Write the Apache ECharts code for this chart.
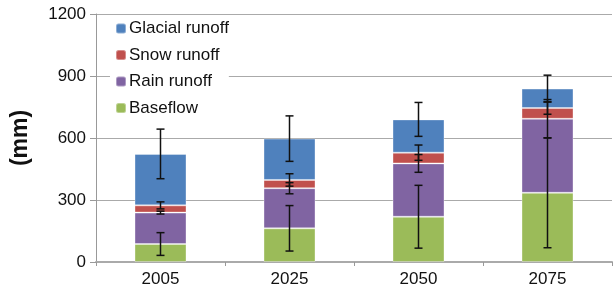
<!DOCTYPE html>
<html>
<head>
<meta charset="utf-8">
<script src="https://cdn.jsdelivr.net/npm/echarts@6/dist/echarts.min.js"></script>
<style>
html, body { margin: 0; padding: 0; background: #fff; }
#chart { width: 614px; height: 296px; }
</style>
</head>
<body>
<div id="chart"></div>
<script>
var years = ['2005', '2025', '2050', '2075'];
var yTicks = [0, 300, 600, 900, 1200];

// segment heights (mm)
var baseflow = [87, 163, 219, 335];
var rain = [152, 194, 258, 358];
var snow = [35, 40, 52, 52];
var glacial = [249, 200, 161, 94];

// error half-ranges, drawn at the top of each segment
var baseflowErr = [55, 110, 152, 266];
var rainErr = [7, 27, 43, 93];
var snowErr = [17, 30, 37, 30];
var glacialErr = [120, 110, 82, 65];

var colors = {
	glacial: '#4F81BD',
	snow: '#C0504D',
	rain: '#8064A2',
	baseflow: '#9BBB59'
};

var font = 'Liberation Sans, Arial, Helvetica, sans-serif';

// build error bar data from the stacked tops
var errData = [];
var layers = [[baseflow, baseflowErr], [rain, rainErr], [snow, snowErr], [glacial, glacialErr]];
for (var i = 0; i < years.length; i++) {
	var cum = 0;
	for (var k = 0; k < layers.length; k++) {
		cum += layers[k][0][i];
		errData.push([i, cum - layers[k][1][i], cum + layers[k][1][i]]);
	}
}

function barSeries(name, data, color) {
	return {
		name: name,
		type: 'bar',
		stack: 'total',
		barWidth: 52,
		data: data,
		itemStyle: { color: color, borderColor: 'rgba(255,255,255,0.35)', borderWidth: 1 },
		emphasis: { disabled: true }
	};
}

var myChart = echarts.init(document.getElementById('chart'));
myChart.setOption({
	animation: false,
	textStyle: { fontFamily: font },
	grid: { left: 96, right: 2, top: 14, bottom: 34 },
	legend: {
		orient: 'vertical',
		left: 110,
		top: 15,
		itemWidth: 10,
		itemHeight: 10,
		itemGap: 9.5,
		padding: [5, 0, 5, 5],
		backgroundColor: '#fff',
		data: ['Glacial runoff', 'Snow runoff', 'Rain runoff', 'Baseflow'],
		textStyle: { fontSize: 17, lineHeight: 17, color: '#111', fontFamily: font, padding: [0, 0, 0, -2] }
	},
	xAxis: {
		type: 'category',
		data: years,
		axisLine: { lineStyle: { color: '#aaa', width: 2 } },
		axisTick: { show: true, length: 4, lineStyle: { color: '#999' } },
		axisLabel: { fontSize: 17, color: '#111', margin: 9 }
	},
	yAxis: {
		type: 'value',
		min: 0,
		max: 1200,
		interval: 300,
		name: '(mm)',
		nameLocation: 'middle',
		nameGap: 64,
		nameTextStyle: { fontSize: 23, fontWeight: 'bold', color: '#111' },
		axisLine: { show: true, lineStyle: { color: '#999' } },
		axisTick: { show: true, length: 6, lineStyle: { color: '#999' } },
		axisLabel: {
			fontSize: 17,
			color: '#111',
			margin: 10,
			formatter: function (v) { return yTicks.indexOf(v) >= 0 ? String(v) : ''; }
		},
		splitLine: { lineStyle: { color: '#aaa', width: 1 } }
	},
	series: [
		barSeries('Baseflow', baseflow, colors.baseflow),
		barSeries('Rain runoff', rain, colors.rain),
		barSeries('Snow runoff', snow, colors.snow),
		barSeries('Glacial runoff', glacial, colors.glacial),
		{
			type: 'custom',
			name: 'error',
			z: 10,
			data: errData,
			encode: { x: 0, y: [1, 2] },
			renderItem: function (params, api) {
				var x = api.value(0);
				var lo = api.coord([x, api.value(1)]);
				var hi = api.coord([x, api.value(2)]);
				var w = 4;
				var st = { stroke: '#111', lineWidth: 1.5 };
				return {
					type: 'group',
					children: [
						{ type: 'line', shape: { x1: lo[0], y1: lo[1], x2: hi[0], y2: hi[1] }, style: st },
						{ type: 'line', shape: { x1: lo[0] - w, y1: lo[1], x2: lo[0] + w, y2: lo[1] }, style: st },
						{ type: 'line', shape: { x1: hi[0] - w, y1: hi[1], x2: hi[0] + w, y2: hi[1] }, style: st }
					]
				};
			}
		}
	]
});
</script>
</body>
</html>
